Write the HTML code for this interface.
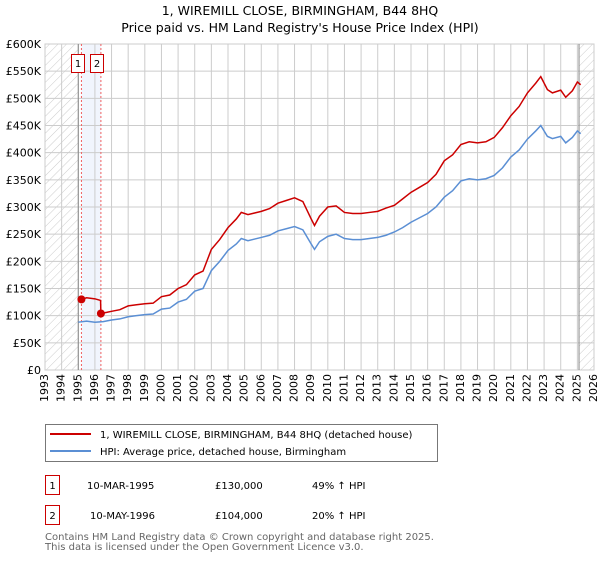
<!DOCTYPE html>
<html><head><meta charset="utf-8"><style>
body{margin:0;background:#fff;font-family:"DejaVu Sans","Liberation Sans",sans-serif;}
svg text{font-family:"DejaVu Sans","Liberation Sans",sans-serif;}
</style></head><body>
<svg id="c" width="600" height="560" viewBox="0 0 600 560">
<defs><pattern id="hatch" width="6" height="6" patternUnits="userSpaceOnUse" patternTransform="rotate(45)"><line x1="0" y1="0" x2="0" y2="6" stroke="#ccc" stroke-width="1"/></pattern></defs>
<text x="300" y="15" text-anchor="middle" font-size="12.5">1, WIREMILL CLOSE, BIRMINGHAM, B44 8HQ</text>
<text x="300" y="32" text-anchor="middle" font-size="12.5">Price paid vs. HM Land Registry's House Price Index (HPI)</text>
<g id="plot"></g>
<g>
<rect x="45.5" y="424.5" width="392" height="37" fill="#fff" stroke="#777"/>
<line x1="50" y1="434" x2="91" y2="434" stroke="#cc0000" stroke-width="2"/>
<text x="100" y="438" font-size="10">1, WIREMILL CLOSE, BIRMINGHAM, B44 8HQ (detached house)</text>
<line x1="50" y1="451" x2="91" y2="451" stroke="#5b8fd4" stroke-width="2"/>
<text x="100" y="455" font-size="10">HPI: Average price, detached house, Birmingham</text>
</g>
<g font-size="10">
<rect x="45.5" y="475.5" width="14" height="19" fill="#fff" stroke="#cc0000"/><text x="52.5" y="489" text-anchor="middle">1</text>
<text x="87" y="489">10-MAR-1995</text><text x="215" y="489">£130,000</text><text x="312" y="489">49% ↑ HPI</text>
<rect x="45.5" y="505.5" width="14" height="19" fill="#fff" stroke="#cc0000"/><text x="52.5" y="519" text-anchor="middle">2</text>
<text x="90" y="519">10-MAY-1996</text><text x="215" y="519">£104,000</text><text x="312" y="519">20% ↑ HPI</text>
</g>
<text x="45" y="540" font-size="10" fill="#666">Contains HM Land Registry data © Crown copyright and database right 2025.</text>
<text x="45" y="550" font-size="10" fill="#666">This data is licensed under the Open Government Licence v3.0.</text>
</svg>
<script>
const yearTicks=[1993,1994,1995,1996,1997,1998,1999,2000,2001,2002,2003,2004,2005,2006,2007,2008,2009,2010,2011,2012,2013,2014,2015,2016,2017,2018,2019,2020,2021,2022,2023,2024,2025,2026];
const priceTicks=[0,50,100,150,200,250,300,350,400,450,500,550,600];
const priceLabels=["£0","£50K","£100K","£150K","£200K","£250K","£300K","£350K","£400K","£450K","£500K","£550K","£600K"];
const hpiYears=[1995,1995.5,1996,1996.5,1997,1997.5,1998,1998.5,1999,1999.5,2000,2000.5,2001,2001.5,2002,2002.5,2003,2003.5,2004,2004.5,2004.8,2005.2,2005.6,2006,2006.5,2007,2007.5,2008,2008.5,2009,2009.2,2009.5,2010,2010.5,2011,2011.5,2012,2012.5,2013,2013.5,2014,2014.5,2015,2015.5,2016,2016.5,2017,2017.5,2018,2018.5,2019,2019.5,2020,2020.5,2021,2021.5,2022,2022.5,2022.8,2023.2,2023.5,2024,2024.3,2024.7,2025,2025.2];
const hpiValues=[88,90,88,89,92,94,98,100,102,103,112,114,125,130,145,150,183,200,220,232,242,238,241,244,248,256,260,264,258,232,222,236,246,250,242,240,240,242,244,248,254,262,272,280,288,300,318,330,348,352,350,352,358,372,392,405,425,440,450,430,426,430,418,428,440,435];
const saleYears=[1995.19,1996.36];
const saleValues=[130,104];
const ppYears=[1995.19,1995.5,1996.0,1996.34,1996.36,1996.7,1997,1997.5,1998,1998.5,1999,1999.5,2000,2000.5,2001,2001.5,2002,2002.5,2003,2003.5,2004,2004.5,2004.8,2005.2,2005.6,2006,2006.5,2007,2007.5,2008,2008.5,2009,2009.2,2009.5,2010,2010.5,2011,2011.5,2012,2012.5,2013,2013.5,2014,2014.5,2015,2015.5,2016,2016.5,2017,2017.5,2018,2018.5,2019,2019.5,2020,2020.5,2021,2021.5,2022,2022.5,2022.8,2023.2,2023.5,2024,2024.3,2024.7,2025,2025.2];
const ppValues=[130,133,131,128,104,106,108,111,118,120,122,123,135,138,150,157,175,182,222,240,262,278,290,286,289,292,297,307,312,317,310,278,266,283,300,302,290,288,288,290,292,298,303,315,327,336,345,360,385,396,415,420,418,420,428,446,468,485,510,528,540,516,510,515,502,514,530,525];
const L=45,R=594,T=44,B=370;
const x=y=>L+(y-1993)/(2026-1993)*(R-L);
const y=v=>B-v/600*(B-T);
const NS='http://www.w3.org/2000/svg';
const g=document.getElementById('plot');
function mk(t,a,p){const e=document.createElementNS(NS,t);for(const k in a)e.setAttribute(k,a[k]);(p||g).appendChild(e);return e;}
let e;
e=mk('rect',{x:L,y:T,width:x(1995)-L,height:B-T,fill:'url(#hatch)'});


e=mk('rect',{x:x(2025.1),y:T,width:R-x(2025.1),height:B-T,fill:'url(#hatch)'});


e=mk('rect',{x:x(saleYears[0]),y:T,width:x(saleYears[1])-x(saleYears[0]),height:B-T,fill:'#eef3fc',opacity:0.8});


yearTicks.forEach(yr=>{
 e=mk('line',{x1:x(yr),x2:x(yr),y1:T,y2:B,stroke:'#ccc','stroke-width':1});
 
 
 e=mk('text',{x:x(yr),y:B+4,'font-size':11,'text-anchor':'end',transform:`rotate(-90 ${x(yr)} ${B+4})`,'dominant-baseline':'middle'});
 e.textContent=yr;
 
 
});
priceTicks.forEach((v,i)=>{
 e=mk('line',{x1:L,x2:R,y1:y(v),y2:y(v),stroke:'#ccc','stroke-width':1});
 
 
 e=mk('text',{x:L-4,y:y(v)+4,'font-size':11,'text-anchor':'end'});
 e.textContent=priceLabels[i];
 
 
});
e=mk('rect',{x:L,y:T,width:R-L,height:B-T,fill:'none',stroke:'#ccc'});


e=mk('line',{x1:x(1995),x2:x(1995),y1:T,y2:B,stroke:'#888'});


e=mk('line',{x1:x(2025.1),x2:x(2025.1),y1:T,y2:B,stroke:'#888'});


saleYears.forEach((s,i)=>{
 e=mk('line',{x1:x(s),x2:x(s),y1:T,y2:B,stroke:'#f06060','stroke-dasharray':'2,2'});
 
 
 const bx=i==0?71.5:90.5;
 e=mk('rect',{x:bx,y:54.5,width:13,height:18,fill:'#fff',stroke:'#cc0000'});
 
 
 e=mk('text',{x:bx+6.5,y:67,'font-size':10,'text-anchor':'middle'});
 e.textContent=String(i+1);
 
 
});
e=mk('polyline',{points:hpiYears.map((a,i)=>x(a)+','+y(hpiValues[i])).join(' '),fill:'none',stroke:'#5b8fd4','stroke-width':1.5});


e=mk('polyline',{points:ppYears.map((a,i)=>x(a)+','+y(ppValues[i])).join(' '),fill:'none',stroke:'#cc0000','stroke-width':1.5});


saleYears.forEach((s,i)=>{
 e=mk('circle',{cx:x(s),cy:y(saleValues[i]),r:4,fill:'#cc0000'});
 
 
});
</script>
</body></html>
